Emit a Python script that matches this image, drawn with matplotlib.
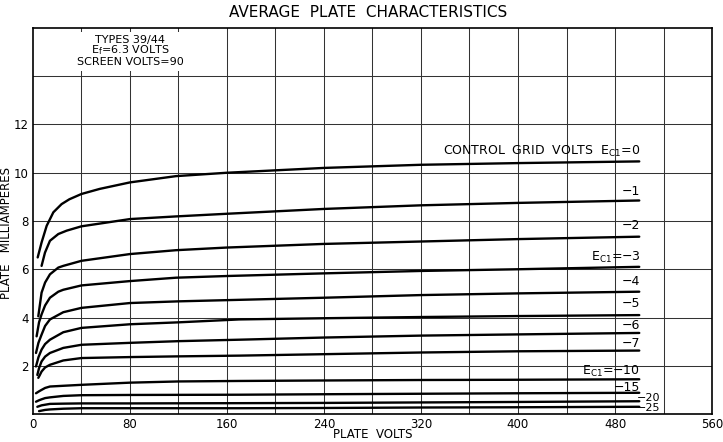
import numpy as np
import matplotlib
matplotlib.use("Agg")
import matplotlib.pyplot as plt
from matplotlib.patches import Rectangle

plt.rcParams['font.family'] = ['DejaVu Sans']
plt.rcParams['mathtext.default'] = 'regular'

# plate current curves (plate volts, plate mA) for each control grid voltage
grid_volts = [0, -1, -2, -3, -4, -5, -6, -7, -10, -15, -20, -25]

ep_0 = [3.9, 7.1, 11.3, 16.8, 23.6, 30, 40, 55, 80, 118, 160, 240, 320, 400, 500]
ip_0 = [6.49, 7.11, 7.8, 8.36, 8.7, 8.9, 9.12, 9.33, 9.6, 9.86, 10.0, 10.2, 10.33, 10.4, 10.47]

ep_1 = [7.1, 9.9, 14, 20.9, 27.8, 40, 80, 118, 160, 240, 320, 400, 500]
ip_1 = [6.14, 6.69, 7.18, 7.46, 7.6, 7.78, 8.08, 8.19, 8.3, 8.5, 8.65, 8.75, 8.85]

ep_2 = [4.4, 7.1, 10, 14, 20.9, 25, 40, 80, 118, 160, 240, 320, 400, 500]
ip_2 = [4.05, 5.03, 5.45, 5.79, 6.07, 6.14, 6.35, 6.63, 6.79, 6.9, 7.05, 7.15, 7.25, 7.35]

ep_3 = [3, 5, 7.1, 10, 14, 20.9, 25, 40, 80, 118, 160, 240, 320, 400, 500]
ip_3 = [3.22, 3.8, 4.13, 4.5, 4.82, 5.07, 5.15, 5.33, 5.51, 5.65, 5.72, 5.83, 5.93, 6.0, 6.1]

ep_4 = [2.5, 4.5, 7.1, 10, 14, 25, 40, 80, 120, 160, 240, 320, 400, 500]
ip_4 = [2.53, 2.95, 3.29, 3.65, 3.92, 4.22, 4.4, 4.6, 4.67, 4.72, 4.82, 4.93, 5.0, 5.07]

ep_5 = [2.5, 4.5, 7.1, 10, 14, 25, 40, 80, 120, 170, 240, 320, 400, 500]
ip_5 = [1.97, 2.35, 2.67, 2.9, 3.08, 3.39, 3.57, 3.72, 3.8, 3.92, 3.97, 4.02, 4.06, 4.1]

ep_6 = [3.6, 5, 7.1, 10, 14, 25, 40, 80, 120, 170, 240, 320, 400, 500]
ip_6 = [1.62, 1.9, 2.18, 2.38, 2.53, 2.74, 2.87, 2.95, 3.02, 3.08, 3.17, 3.25, 3.3, 3.36]

ep_7 = [4.4, 5.5, 7.1, 10, 14, 25, 40, 80, 120, 170, 240, 320, 400, 500]
ip_7 = [1.5, 1.6, 1.76, 1.93, 2.04, 2.22, 2.32, 2.36, 2.39, 2.42, 2.48, 2.55, 2.6, 2.63]

ep_10 = [2.5, 5, 7.1, 10, 14, 25, 40, 80, 120, 170, 240, 320, 400, 500]
ip_10 = [0.86, 0.94, 1.0, 1.08, 1.14, 1.17, 1.21, 1.3, 1.35, 1.37, 1.39, 1.41, 1.42, 1.44]

ep_15 = [2.5, 5, 7.1, 10, 14, 25, 40, 80, 170, 240, 320, 400, 500]
ip_15 = [0.51, 0.57, 0.61, 0.66, 0.69, 0.75, 0.78, 0.79, 0.8, 0.82, 0.84, 0.86, 0.88]

ep_20 = [3.6, 7.1, 14, 25, 40, 80, 170, 240, 320, 400, 500]
ip_20 = [0.3, 0.36, 0.42, 0.43, 0.44, 0.44, 0.45, 0.46, 0.48, 0.5, 0.53]

ep_25 = [5, 10, 14, 25, 40, 80, 170, 240, 320, 400, 500]
ip_25 = [0.12, 0.17, 0.19, 0.22, 0.24, 0.24, 0.24, 0.25, 0.27, 0.28, 0.3]

curves = [(ep_0, ip_0), (ep_1, ip_1), (ep_2, ip_2), (ep_3, ip_3),
          (ep_4, ip_4), (ep_5, ip_5), (ep_6, ip_6), (ep_7, ip_7),
          (ep_10, ip_10), (ep_15, ip_15), (ep_20, ip_20), (ep_25, ip_25)]

curve_labels = ["CONTROL  GRID  VOLTS  E$_{C1}$=0", "\u22121", "\u22122", "E$_{C1}$=\u22123",
                "\u22124", "\u22125", "\u22126", "\u22127", "E$_{C1}$=\u221210",
                "\u221215", "\u221220", "\u221225"]
label_ma = [10.9, 9.22, 7.8, 6.51, 5.51, 4.57, 3.67, 2.94, 1.76, 1.11, 0.68, 0.24]

x_ticks = [0, 80, 160, 240, 320, 400, 480, 560]
y_ticks = [2, 4, 6, 8, 10, 12]

fig = plt.figure(figsize=(7.23, 4.42), dpi=100)
ax = fig.add_axes([0.0456, 0.0633, 0.9392, 0.8734])
ax.set_xlim(0, 560)
ax.set_ylim(0, 16)

# chart grid: every 40 volts and every 2 mA
for v in np.arange(40, 560, 40):
    ax.axvline(v, color='#333333', lw=0.75, zorder=1)
for i in np.arange(2, 16, 2):
    ax.axhline(i, color='#333333', lw=0.75, zorder=1)

for (ep, ip) in curves:
    ax.plot(ep, ip, color='black', lw=1.7, solid_capstyle='round', zorder=3)

for txt, y in zip(curve_labels, label_ma):
    if txt in ("\u221220", "\u221225"):
        ax.text(498, y, txt, ha='left', va='center', fontsize=8, zorder=4)
    else:
        ax.text(501, y, txt, ha='right', va='center', fontsize=9, zorder=4)

# tube data block in the upper left corner
ax.add_patch(Rectangle((2, 14.2), 150, 1.65, facecolor='white', edgecolor='none', zorder=2))
ax.text(80, 15.52, "TYPES 39/44", ha='center', va='center', fontsize=8, zorder=4)
ax.text(80, 15.07, "E$_f$=6.3 VOLTS", ha='center', va='center', fontsize=8, zorder=4)
ax.text(80, 14.6, "SCREEN VOLTS=90", ha='center', va='center', fontsize=8, zorder=4)

ax.set_xticks(x_ticks)
ax.set_xticklabels([str(t) for t in x_ticks])
ax.set_yticks(y_ticks)
ax.set_yticklabels([str(t) for t in y_ticks])
ax.tick_params(length=0, labelsize=8.5, pad=3)

for s in ax.spines.values():
    s.set_linewidth(1.2)
    s.set_color('black')

ax.set_xlabel("PLATE  VOLTS", fontsize=8.5)
ax.xaxis.set_label_coords(0.5, -0.036)
ax.set_ylabel("PLATE   MILLIAMPERES", fontsize=8.5)
ax.yaxis.set_label_coords(-0.03, 0.47)
fig.text(0.509, 0.972, "AVERAGE  PLATE  CHARACTERISTICS", ha='center', va='center', fontsize=11)

fig.savefig("out.png", dpi=100)
